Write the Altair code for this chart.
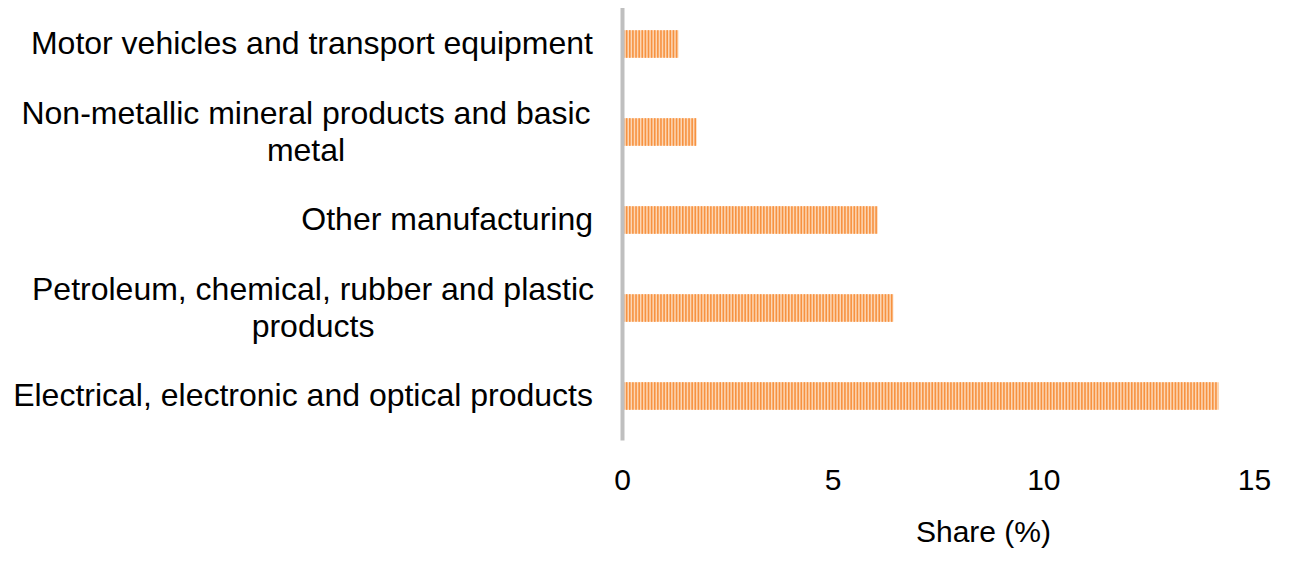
import altair as alt
import numpy as np
import pandas as pd

categories = [
    "Motor vehicles and transport equipment",
    "Non-metallic mineral products and basic metal",
    "Other manufacturing",
    "Petroleum, chemical, rubber and plastic products",
    "Electrical, electronic and optical products",
]
label_lines = [
    ["Motor vehicles and transport equipment"],
    ["Non-metallic mineral products and basic", "metal"],
    ["Other manufacturing"],
    ["Petroleum, chemical, rubber and plastic", "products"],
    ["Electrical, electronic and optical products"],
]
shares = [1.34, 1.77, 6.07, 6.44, 14.17]
x_ticks = [0, 5, 10, 15]

FONT = "Liberation Sans"
STRIPE = 0.074  # stripe period in data units (decorative pattern)

df = pd.DataFrame({"category": categories, "share": shares})
lab = pd.DataFrame({"category": categories, "lines": label_lines,
                    "multi": [len(l) > 1 for l in label_lines]})
stripe_rows = []
for c, v in zip(categories, shares):
    for s in np.arange(STRIPE / 2, v - STRIPE / 4, STRIPE):
        stripe_rows.append({"category": c, "pos": float(s)})
stripes = pd.DataFrame(stripe_rows)

yenc = alt.Y("category:N", sort=categories,
             scale=alt.Scale(paddingInner=0.685, paddingOuter=0.3425),
             axis=alt.Axis(labels=False, ticks=False, title=None,
                           domainColor="#BFBFBF", domainWidth=4, zindex=2))
xscale = alt.Scale(domain=[0, 15], nice=False)

bars = alt.Chart(df).mark_bar(color="#FCD6B4").encode(
    x=alt.X("share:Q", scale=xscale,
            axis=alt.Axis(values=x_ticks, grid=False, domain=False, ticks=False,
                          tickSize=0, labelPadding=49, labelBaseline="alphabetic",
                          labelFlush=False,
                          labelFontSize=30, labelFont=FONT, labelColor="#000000",
                          title="Share (%)", titleFontSize=30, titleFont=FONT,
                          titleFontWeight="normal", titleColor="#000000",
                          titleX=361, titleY=101, titleAlign="center",
                          titleBaseline="alphabetic", titleAnchor="start")),
    y=yenc,
)

stripe_layer = alt.Chart(stripes).mark_tick(
    color="#F79240", thickness=1.6, size=27.7, orient="vertical", opacity=1
).encode(
    x=alt.X("pos:Q", scale=xscale),
    y=alt.Y("category:N", sort=categories),
)

text_right = alt.Chart(lab).transform_filter("!datum.multi").mark_text(
    align="right", baseline="middle", fontSize=32, font=FONT, color="#000000",
    lineHeight=37
).encode(
    y=alt.Y("category:N", sort=categories),
    x=alt.value(-29),
    text="lines",
)

text_center_a = alt.Chart(lab).transform_filter(
    alt.datum.category == categories[1]
).mark_text(
    align="center", baseline="middle", fontSize=32, font=FONT, color="#000000",
    lineHeight=37, dy=-18
).encode(
    y=alt.Y("category:N", sort=categories),
    x=alt.value(-316),
    text="lines",
)

text_center_b = alt.Chart(lab).transform_filter(
    alt.datum.category == categories[3]
).mark_text(
    align="center", baseline="middle", fontSize=32, font=FONT, color="#000000",
    lineHeight=37, dy=-18
).encode(
    y=alt.Y("category:N", sort=categories),
    x=alt.value(-309),
    text="lines",
)

chart = alt.layer(bars, stripe_layer, text_right, text_center_a, text_center_b).properties(
    width=632, height=440,
    background="white",
    autosize=alt.AutoSizeParams(type="none"),
    padding={"left": 614, "top": -8, "right": 30, "bottom": 110},
).configure_view(strokeWidth=0, stroke=None)

chart.save("out.html", embed_options={"renderer": "svg", "actions": False})
